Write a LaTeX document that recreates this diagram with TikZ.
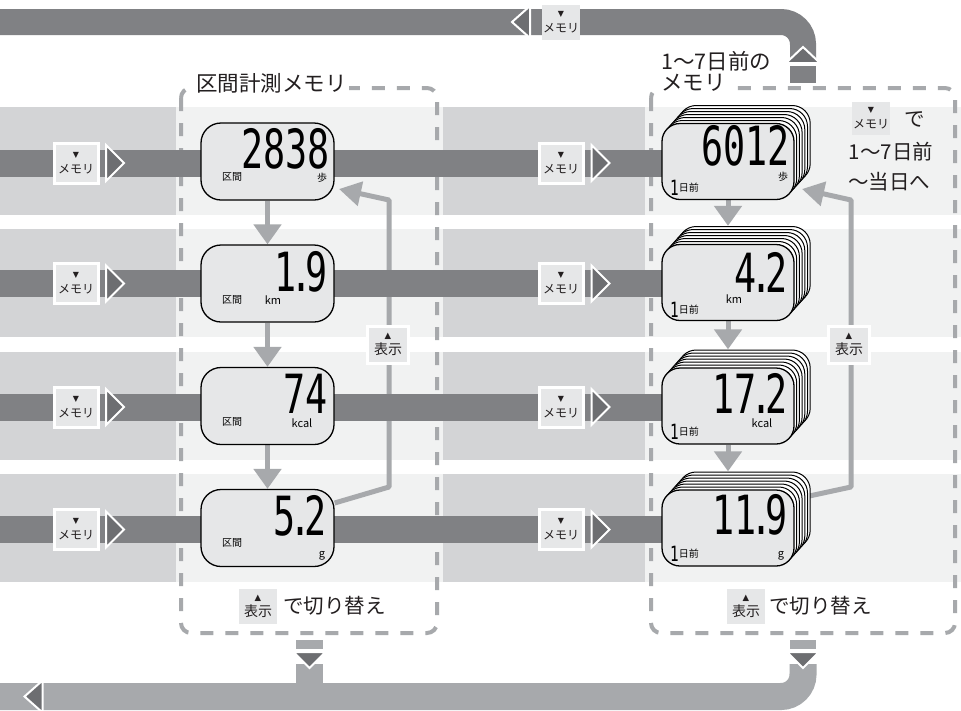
\documentclass[tikz,border=0pt]{standalone}
\usepackage{fontspec}
\setmainfont{Noto Sans CJK JP}
\newfontfamily\jp{Noto Sans CJK JP}
\newfontfamily\symf{DejaVu Sans}
\newfontfamily\lcdf[FakeStretch=0.68]{DejaVu Sans Mono}
\usetikzlibrary{arrows.meta,calc}
\definecolor{bandmid}{HTML}{D3D4D6}
\definecolor{bandlt}{HTML}{F1F2F2}
\definecolor{bardark}{HTML}{808184}
\definecolor{tridark}{HTML}{6D6E71}
\definecolor{connc}{HTML}{A7A9AC}
\definecolor{btnc}{HTML}{E6E7E8}
\definecolor{lcdc}{HTML}{E6E7E8}
\definecolor{inkc}{HTML}{231F20}
\newcommand\lcddot{\kern-.12em.\kern-.12em}
\newcommand\downmark{{\symf\fontsize{8}{8}\selectfont ▼}}
\newcommand\upmark{{\symf\fontsize{8.5}{8.5}\selectfont ▲}}
\pgfdeclarelayer{bgl}
\pgfdeclarelayer{connl}
\pgfdeclarelayer{barl}
\pgfsetlayers{bgl,connl,barl,main}
\tikzset{
  every node/.style={text=inkc},
  rowbar/.style={draw=bardark, line width=27pt},
  topbar/.style={draw=bardark, line width=26pt, rounded corners=22pt},
  botbar/.style={draw=connc, line width=27pt, rounded corners=22pt},
  dashbox/.style={draw=connc, line width=4pt, dash pattern=on 13pt off 12pt, rounded corners=10pt},
  trishape/.style={fill=tridark, draw=white, line width=2pt, line join=miter},
  rtri/.pic={\path[trishape] (-9,-18) -- (9,0) -- (-9,18) -- cycle;},
  ltri/.pic={\path[trishape] (9,-16) -- (-9,0) -- (9,16) -- cycle;},
  utri/.pic={\path[trishape] (-17,8) -- (0,-8) -- (17,8) -- cycle;},
  dtri/.pic={\path[trishape] (-16,-8) -- (0,8) -- (16,-8) -- cycle;},
  membtn/.style={fill=btnc, draw=white, line width=3pt, minimum width=44pt, minimum height=40pt, inner sep=0pt, align=center, font=\jp\fontsize{12}{12}\selectfont},
  plainbtn/.style={membtn, draw=none, minimum width=38pt, minimum height=35pt},
  hyobtn/.style={membtn, minimum width=41pt, minimum height=37pt, font=\jp\fontsize{14}{14}\selectfont},
  hyoplain/.style={hyobtn, draw=none, minimum width=38pt, minimum height=35pt},
  lcdL/.style={draw=black, line width=1.3pt, fill=lcdc, rounded corners=20pt, minimum width=133pt, minimum height=77pt, inner sep=0pt},
  lcdR/.style={lcdL, minimum width=132pt, minimum height=76pt, rounded corners=18pt},
  cardback/.style={draw=black, line width=1pt, fill=white, rounded corners=18pt},
  digits/.style={font=\lcdf\fontsize{54}{54}\selectfont, inner sep=0pt, anchor=east, text=black},
  lblsm/.style={font=\jp\fontsize{10}{10}\selectfont, inner sep=0pt, text=black},
  lblunit/.style={font=\jp\fontsize{11}{11}\selectfont, inner sep=0pt, text=black},
  txtbig/.style={font=\jp\fontsize{20.5}{24}\selectfont, inner sep=0pt},
  flow/.style={draw=connc, line width=5pt, line join=round, -{Triangle[length=20pt,width=27pt]}},
  ret/.style={draw=connc, line width=5pt, line join=round, -{Triangle[length=22pt,width=24pt]}},
}
\begin{document}
\begin{tikzpicture}[x=1pt,y=-1pt]
\useasboundingbox (0,0) rectangle (961,710);
\clip (0,0) rectangle (961,710);

% ---------- background layer ----------
\begin{pgfonlayer}{bgl}
\fill[white] (0,0) rectangle (961,710);
\foreach \t in {107,229,352,474} {
  \fill[bandmid] (0,\t) rectangle (176,\t+108);
  \fill[bandlt] (176,\t) rectangle (443,\t+108);
  \fill[bandmid] (443,\t) rectangle (645,\t+108);
  \fill[bandlt] (645,\t) rectangle (961,\t+108);
}
\draw[dashbox] (181,88) rectangle (437,633);
\draw[dashbox] (651,88) rectangle (955,633);
% top bar
\coordinate (TBs) at (-5,22);
\coordinate (TBc) at (803,22);
\coordinate (TBe) at (803,60);
\draw[topbar] (TBs) -- (TBc) -- (TBe);
\fill[bardark] (790,66) rectangle (816,83);
% bottom bar
\coordinate (BBs) at (-5,696.5);
\coordinate (BBc) at (803,696.5);
\coordinate (BBe) at (803,664);
\draw[botbar] (BBs) -- (BBc) -- (BBe);
\fill[connc] (790,640) rectangle (816,649);
\fill[connc] (296,664) rectangle (323,690);
\fill[connc] (296,640) rectangle (323,649);
\end{pgfonlayer}

% ---------- displays (main layer) ----------
\node[lcdL] (L1) at (267.5,161.5) {};
\node[lcdL] (L2) at (267.5,283.5) {};
\node[lcdL] (L3) at (267.5,406) {};
\node[lcdL] (L4) at (267.5,528) {};

\foreach \yc in {161.5,282.5,406,528} {
  \foreach \k in {6,5,...,1} {
    \draw[cardback] (662+2.7*\k, \yc-38-3*\k) rectangle ++(132,76);
  }
}
\node[lcdR] (R1) at (728,161.5) {};
\node[lcdR] (R2) at (728,282.5) {};
\node[lcdR] (R3) at (728,406) {};
\node[lcdR] (R4) at (728,528) {};

% digits
\node[digits] (L1n) at (330,148.5) {2838};
\node[digits] (L2n) at (328,272) {1\lcddot9};
\node[digits] (L3n) at (328,393.5) {74};
\node[digits] (L4n) at (327,515.5) {5\lcddot2};
\node[digits] (R1n) at (790,146) {6012};
\node[digits] (R2n) at (788,272) {4\lcddot2};
\node[digits] (R3n) at (788,393.5) {17\lcddot2};
\node[digits] (R4n) at (788,515) {11\lcddot9};

% labels left
\node[lblsm] (L1a) at (232,177) {区間};
\node[lblsm] (L1b) at (322,178) {歩};
\node[lblsm] (L2a) at (232,300) {区間};
\node[lblunit] (L2b) at (273,300) {km};
\node[lblsm] (L3a) at (232,422) {区間};
\node[lblunit] (L3b) at (302,423) {kcal};
\node[lblsm] (L4a) at (232,543) {区間};
\node[lblunit] (L4b) at (322,556) {g};
% labels right
\foreach \b/\n in {191.5/1,313.5/2,435.5/3,557.5/4} {
  \node[anchor=base west, inner sep=0pt, text=black] (R\n d) at (670,\b)
    {\raisebox{-3.5pt}{\lcdf\fontsize{21}{21}\selectfont 1}{\jp\fontsize{10}{10}\selectfont 日前}};
}
\node[lblsm] (R1b) at (783,177) {歩};
\node[lblunit] (R2b) at (734,299) {km};
\node[lblunit] (R3b) at (762,423) {kcal};
\node[lblunit] (R4b) at (781,556) {g};

% row buttons and triangles
\foreach \y [count=\i] in {163,283.5,407,529.5} {
  \node[membtn] (ML\i) at (76,\y) {\downmark\\[4pt]メモリ};
  \pic at (115,\y) {rtri};
  \node[membtn] (MR\i) at (561,\y) {\downmark\\[4pt]メモリ};
  \pic at (600.5,\y) {rtri};
}

% top / bottom bar marks
\pic at (803,55) {utri};
\pic at (521,22) {ltri};
\node[plainbtn] (TBbtn) at (561,22.5) {\downmark\\[4pt]メモリ};
\pic at (803,660) {dtri};
\pic at (309.5,660) {dtri};
\pic at (33.5,696.5) {ltri};

% titles
\node[font=\jp\fontsize{21.5}{24}\selectfont, fill=white, inner xsep=2pt, inner ysep=0pt, anchor=west] (T1) at (194,83) {区間計測メモリ};
\node[txtbig, font=\jp\fontsize{21.5}{24}\selectfont, anchor=west] (T2a) at (661,61) {1〜7日前の};
\node[txtbig, font=\jp\fontsize{21.5}{24}\selectfont, fill=white, inner xsep=2pt, anchor=west] (T2b) at (659,83) {メモリ};

% right box explanation
\node[plainbtn, minimum height=33pt] (RBbtn) at (871,118.5) {\downmark\\[4pt]メモリ};
\node[txtbig] (RBt1) at (915,119) {で};
\node[txtbig] (RBt2) at (891,152) {1〜7日前};
\node[txtbig] (RBt3) at (889,182) {〜当日へ};

% return buttons
\node[hyobtn] (HL) at (388,344.5) {\upmark\\[2pt]表示};
\node[hyobtn] (HR) at (849,344.5) {\upmark\\[2pt]表示};
% bottom switch texts
\node[hyoplain] (HB1) at (258,606.5) {\upmark\\[2pt]表示};
\node[txtbig, anchor=west] (SW1) at (283,606) {で切り替え};
\node[hyoplain] (HB2) at (746,606.5) {\upmark\\[2pt]表示};
\node[txtbig, anchor=west] (SW2) at (769,606) {で切り替え};

% ---------- connectors ----------
\begin{pgfonlayer}{connl}
\draw[flow] (L1.south) -- (L2.north);
\draw[flow] (L2.south) -- (L3.north);
\draw[flow] (L3.south) -- (L4.north);
\draw[flow] (R1.south) -- ($(R2.north)+(0,-18)$);
\draw[flow] (R2.south) -- ($(R3.north)+(0,-18)$);
\draw[flow] (R3.south) -- ($(R4.north)+(0,-18)$);
\coordinate (LrA) at (389,487);
\coordinate (LrB) at (389,200);
\coordinate (LrT) at (339,189);
\draw[ret] ($(L4.east)+(0,-25)$) -- (LrA) -- (LrB) -- (LrT);
\coordinate (RrA) at (851,487);
\coordinate (RrB) at (851,200);
\coordinate (RrT) at (802,189);
\draw[ret] ($(R4.east)+(10,-31)$) -- (RrA) -- (RrB) -- (RrT);
\end{pgfonlayer}

% ---------- row bars ----------
\begin{pgfonlayer}{barl}
\foreach \y/\n in {163/1,283.5/2,407/3,529.5/4} {
  \coordinate (B\n s) at (-5,\y);
  \draw[rowbar] (B\n s) -- (B\n s -| R\n.center);
}
\end{pgfonlayer}
\end{tikzpicture}
\end{document}
